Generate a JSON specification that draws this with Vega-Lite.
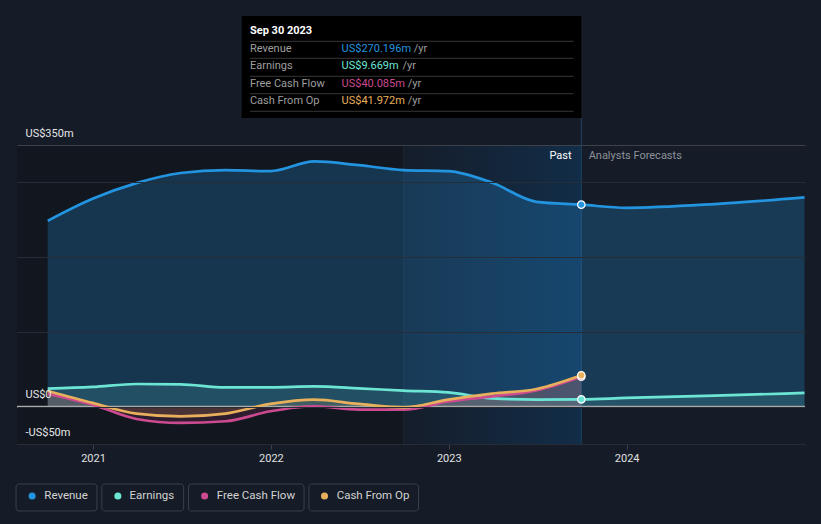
{
  "$schema": "https://vega.github.io/schema/vega-lite/v6.json",
  "width": 788,
  "height": 299,
  "autosize": {"type": "none"},
  "padding": {"left": 17, "top": 145, "right": 16, "bottom": 80},
  "background": "#161c27",
  "config": {"view": {"stroke": null}, "font": "Roboto", "text": {"font": "Roboto", "fontSize": 11}},
  "datasets": {
    "series": [
      {"date": "2020-09-30", "series": "Revenue", "value": 248.5},
      {"date": "2020-12-31", "series": "Revenue", "value": 278},
      {"date": "2021-03-31", "series": "Revenue", "value": 299},
      {"date": "2021-06-30", "series": "Revenue", "value": 312.5},
      {"date": "2021-09-30", "series": "Revenue", "value": 316.5},
      {"date": "2021-12-31", "series": "Revenue", "value": 315},
      {"date": "2022-03-31", "series": "Revenue", "value": 328},
      {"date": "2022-06-30", "series": "Revenue", "value": 323},
      {"date": "2022-09-30", "series": "Revenue", "value": 316.5},
      {"date": "2022-12-31", "series": "Revenue", "value": 315},
      {"date": "2023-03-31", "series": "Revenue", "value": 299.5},
      {"date": "2023-06-30", "series": "Revenue", "value": 274},
      {"date": "2023-09-30", "series": "Revenue", "value": 270.196},
      {"date": "2023-12-31", "series": "Revenue", "value": 266},
      {"date": "2024-06-30", "series": "Revenue", "value": 271},
      {"date": "2024-12-31", "series": "Revenue", "value": 280},
      {"date": "2020-09-30", "series": "Earnings", "value": 24},
      {"date": "2020-12-31", "series": "Earnings", "value": 26.3},
      {"date": "2021-03-31", "series": "Earnings", "value": 30.3},
      {"date": "2021-06-30", "series": "Earnings", "value": 29.8},
      {"date": "2021-09-30", "series": "Earnings", "value": 25.8},
      {"date": "2021-12-31", "series": "Earnings", "value": 25.8},
      {"date": "2022-03-31", "series": "Earnings", "value": 27},
      {"date": "2022-06-30", "series": "Earnings", "value": 24.5},
      {"date": "2022-09-30", "series": "Earnings", "value": 21.4},
      {"date": "2022-12-31", "series": "Earnings", "value": 19},
      {"date": "2023-03-31", "series": "Earnings", "value": 11},
      {"date": "2023-06-30", "series": "Earnings", "value": 9.4},
      {"date": "2023-09-30", "series": "Earnings", "value": 9.669},
      {"date": "2023-12-31", "series": "Earnings", "value": 11.6},
      {"date": "2024-06-30", "series": "Earnings", "value": 14.7},
      {"date": "2024-12-31", "series": "Earnings", "value": 18.3},
      {"date": "2020-09-30", "series": "Free Cash Flow", "value": 17},
      {"date": "2020-12-31", "series": "Free Cash Flow", "value": 2.7},
      {"date": "2021-03-31", "series": "Free Cash Flow", "value": -16.5},
      {"date": "2021-06-30", "series": "Free Cash Flow", "value": -21.8},
      {"date": "2021-09-30", "series": "Free Cash Flow", "value": -19.6},
      {"date": "2021-12-31", "series": "Free Cash Flow", "value": -6.2},
      {"date": "2022-03-31", "series": "Free Cash Flow", "value": 0.5},
      {"date": "2022-06-30", "series": "Free Cash Flow", "value": -4},
      {"date": "2022-09-30", "series": "Free Cash Flow", "value": -4},
      {"date": "2022-12-31", "series": "Free Cash Flow", "value": 7},
      {"date": "2023-03-31", "series": "Free Cash Flow", "value": 13.8},
      {"date": "2023-06-30", "series": "Free Cash Flow", "value": 21.8},
      {"date": "2023-09-30", "series": "Free Cash Flow", "value": 40.085},
      {"date": "2020-09-30", "series": "Cash From Op", "value": 21},
      {"date": "2020-12-31", "series": "Cash From Op", "value": 5},
      {"date": "2021-03-31", "series": "Cash From Op", "value": -9.3},
      {"date": "2021-06-30", "series": "Cash From Op", "value": -13},
      {"date": "2021-09-30", "series": "Cash From Op", "value": -9.3},
      {"date": "2021-12-31", "series": "Cash From Op", "value": 3.6},
      {"date": "2022-03-31", "series": "Cash From Op", "value": 9.4},
      {"date": "2022-06-30", "series": "Cash From Op", "value": 3.6},
      {"date": "2022-09-30", "series": "Cash From Op", "value": -1},
      {"date": "2022-12-31", "series": "Cash From Op", "value": 9.4},
      {"date": "2023-03-31", "series": "Cash From Op", "value": 17.4},
      {"date": "2023-06-30", "series": "Cash From Op", "value": 23.6},
      {"date": "2023-09-30", "series": "Cash From Op", "value": 41.972}
    ],
    "tip": [
      {"role": "title", "date": "2021-11-19", "value": 502.5, "text": "Sep 30 2023"},
      {"role": "label", "date": "2021-11-19", "value": 478.4, "text": "Revenue"},
      {"role": "label", "date": "2021-11-19", "value": 455.7, "text": "Earnings"},
      {"role": "label", "date": "2021-11-19", "value": 431.6, "text": "Free Cash Flow"},
      {"role": "label", "date": "2021-11-19", "value": 408.9, "text": "Cash From Op"},
      {"role": "val", "series": "Revenue", "date": "2022-05-26", "value": 478.4, "text": "US$270.196m"},
      {"role": "val", "series": "Earnings", "date": "2022-05-26", "value": 455.7, "text": "US$9.669m"},
      {"role": "val", "series": "Free Cash Flow", "date": "2022-05-26", "value": 431.6, "text": "US$40.085m"},
      {"role": "val", "series": "Cash From Op", "date": "2022-05-26", "value": 408.9, "text": "US$41.972m"},
      {"role": "unit", "date": "2022-10-21", "value": 478.4, "text": "/yr"},
      {"role": "unit", "date": "2022-09-28", "value": 455.7, "text": "/yr"},
      {"role": "unit", "date": "2022-10-09", "value": 431.6, "text": "/yr"},
      {"role": "unit", "date": "2022-10-09", "value": 408.9, "text": "/yr"}
    ],
    "tipLines": [
      {"date": "2021-11-19", "date2": "2023-09-14", "value": 488.7},
      {"date": "2021-11-19", "date2": "2023-09-14", "value": 466.0},
      {"date": "2021-11-19", "date2": "2023-09-14", "value": 441.9},
      {"date": "2021-11-19", "date2": "2023-09-14", "value": 418.6},
      {"date": "2021-11-19", "date2": "2023-09-14", "value": 395.1}
    ],
    "legendBoxes": [
      {"date": "2020-07-27", "date2": "2021-01-09", "value": -103.5, "value2": -139.6},
      {"date": "2021-01-19", "date2": "2021-07-06", "value": -103.5, "value2": -139.6},
      {"date": "2021-07-16", "date2": "2022-03-10", "value": -103.5, "value2": -139.6},
      {"date": "2022-03-20", "date2": "2022-10-31", "value": -103.5, "value2": -139.6}
    ],
    "legendItems": [
      {"date": "2020-08-29", "tdate": "2020-09-23", "series": "Revenue", "value": -119.6},
      {"date": "2021-02-21", "tdate": "2021-03-17", "series": "Earnings", "value": -119.6},
      {"date": "2021-08-18", "tdate": "2021-09-12", "series": "Free Cash Flow", "value": -119.6},
      {"date": "2022-04-21", "tdate": "2022-05-16", "series": "Cash From Op", "value": -119.6}
    ]
  },
  "encoding": {
    "x": {
      "field": "date", "type": "temporal", "title": null,
      "scale": {"type": "utc", "domain": [{"year": 2020, "month": 7, "date": 29, "utc": true}, {"year": 2025, "month": 1, "date": 1, "utc": true}]},
      "axis": {
        "values": [{"year": 2021, "utc": true}, {"year": 2022, "utc": true}, {"year": 2023, "utc": true}, {"year": 2024, "utc": true}],
        "format": "%Y", "grid": false, "domainColor": "#3c424b", "tickColor": "#3c424b", "tickSize": 5,
        "labelColor": "#e0e0e0", "labelFontSize": 11, "labelPadding": 3, "labelFont": "Roboto"
      }
    },
    "y": {
      "field": "value", "type": "quantitative", "title": null,
      "scale": {"domain": [-50, 350], "nice": false, "zero": false},
      "axis": {
        "values": [-50, 0, 100, 200, 300, 350],
        "labelExpr": "datum.value == 350 ? 'US$350m' : datum.value == 0 ? 'US$0' : datum.value == -50 ? '-US$50m' : ''",
        "grid": true,
        "gridColor": {"condition": {"test": "datum.value == 350", "value": "#3b4049"}, "value": "#272d37"},
        "domain": false, "ticks": false, "tickSize": 0,
        "labelAlign": "left", "labelBaseline": "middle", "labelPadding": -8, "labelOffset": -12,
        "labelColor": "#e6e6e6", "labelFontSize": 11, "labelFont": "Roboto", "labelOverlap": false,
        "zindex": 1
      }
    }
  },
  "layer": [
    {
      "data": {"values": [{"date": "2020-07-29", "date2": "2022-09-30", "value": -50, "value2": 350}]},
      "mark": {"type": "rect", "color": "#12161f"},
      "encoding": {"x2": {"field": "date2"}, "y2": {"field": "value2"}}
    },
    {
      "data": {"values": [{"date": "2022-09-30", "date2": "2023-09-30", "value": -50, "value2": 350}]},
      "mark": {"type": "rect", "color": {"gradient": "linear", "x1": 0, "y1": 0, "x2": 1, "y2": 0, "stops": [{"offset": 0, "color": "#151d2a"}, {"offset": 1, "color": "#122d48"}]}},
      "encoding": {"x2": {"field": "date2"}, "y2": {"field": "value2"}}
    },
    {
      "data": {"values": [{"date": "2022-09-30", "value": -50, "value2": 350}]},
      "mark": {"type": "rule", "color": "#1c2635", "strokeWidth": 1},
      "encoding": {"y2": {"field": "value2"}}
    },
    {
      "data": {"values": [{"date": "2023-09-30", "value": -50, "value2": 386.1}]},
      "mark": {"type": "rule", "color": "#21405e", "strokeWidth": 1},
      "encoding": {"y2": {"field": "value2"}}
    },
    {
      "data": {"name": "series"},
      "mark": {"type": "area", "interpolate": "monotone"},
      "encoding": {
        "y2": {"datum": 0},
        "color": {"field": "series", "type": "nominal", "scale": {"domain": ["Revenue", "Earnings", "Free Cash Flow", "Cash From Op"], "range": ["#2394df", "#6ce5d5", "#cc4a8f", "#e8b05c"]}, "legend": null},
        "fillOpacity": {"condition": {"test": "datum.series === 'Revenue'", "value": 0.25}, "value": 0.15}
      }
    },
    {
      "data": {"values": [{"date": "2020-07-29", "date2": "2025-01-01", "value": 0}]},
      "mark": {"type": "rule", "color": "#a9a9a9", "strokeWidth": 2},
      "encoding": {"x2": {"field": "date2"}}
    },
    {
      "data": {"name": "series"},
      "mark": {"type": "line", "interpolate": "monotone", "strokeWidth": 2.7},
      "encoding": {
        "color": {"field": "series", "type": "nominal", "scale": {"domain": ["Revenue", "Earnings", "Free Cash Flow", "Cash From Op"], "range": ["#2394df", "#6ce5d5", "#cc4a8f", "#e8b05c"]}, "legend": null}
      }
    },
    {
      "data": {"name": "series"},
      "transform": [{"filter": {"field": "date", "equal": {"year": 2023, "month": 9, "date": 30, "utc": true}}}],
      "mark": {"type": "circle", "size": 55, "stroke": "#ffffff", "strokeWidth": 1.2, "opacity": 1},
      "encoding": {
        "color": {"field": "series", "type": "nominal", "scale": {"domain": ["Revenue", "Earnings", "Free Cash Flow", "Cash From Op"], "range": ["#2394df", "#6ce5d5", "#cc4a8f", "#e8b05c"]}, "legend": null}
      }
    },
    {
      "data": {"values": [{"date": "2021-11-02", "date2": "2023-09-30", "value": 386.1, "value2": 522.6}]},
      "mark": {"type": "rect", "color": "#000000"},
      "encoding": {"x2": {"field": "date2"}, "y2": {"field": "value2"}}
    },
    {
      "data": {"name": "tipLines"},
      "mark": {"type": "rule", "color": "#363636", "strokeWidth": 1},
      "encoding": {"x2": {"field": "date2"}}
    },
    {
      "data": {"name": "tip"},
      "transform": [{"filter": "datum.role === 'title'"}],
      "mark": {"type": "text", "align": "left", "baseline": "middle", "color": "#ffffff", "fontWeight": "bold", "fontSize": 11},
      "encoding": {"text": {"field": "text"}}
    },
    {
      "data": {"name": "tip"},
      "transform": [{"filter": "datum.role === 'label' || datum.role === 'unit'"}],
      "mark": {"type": "text", "align": "left", "baseline": "middle", "color": "#9e9e9e", "fontSize": 11},
      "encoding": {"text": {"field": "text"}}
    },
    {
      "data": {"name": "tip"},
      "transform": [{"filter": "datum.role === 'val'"}],
      "mark": {"type": "text", "align": "left", "baseline": "middle", "fontSize": 11},
      "encoding": {
        "text": {"field": "text"},
        "color": {"field": "series", "type": "nominal", "scale": {"domain": ["Revenue", "Earnings", "Free Cash Flow", "Cash From Op"], "range": ["#2394df", "#6ce5d5", "#cc4a8f", "#e8b05c"]}, "legend": null}
      }
    },
    {
      "data": {"values": [{"date": "2023-09-10", "value": 335.3, "text": "Past"}]},
      "mark": {"type": "text", "align": "right", "baseline": "middle", "color": "#ffffff", "fontSize": 11},
      "encoding": {"text": {"field": "text"}}
    },
    {
      "data": {"values": [{"date": "2023-10-15", "value": 335.3, "text": "Analysts Forecasts"}]},
      "mark": {"type": "text", "align": "left", "baseline": "middle", "color": "#8c9199", "fontSize": 11},
      "encoding": {"text": {"field": "text"}}
    },
    {
      "data": {"name": "legendBoxes"},
      "mark": {"type": "rect", "fill": null, "fillOpacity": 0, "stroke": "#3a4049", "strokeWidth": 1, "cornerRadius": 3},
      "encoding": {"x2": {"field": "date2"}, "y2": {"field": "value2"}}
    },
    {
      "data": {"name": "legendItems"},
      "mark": {"type": "circle", "size": 50, "opacity": 1},
      "encoding": {
        "color": {"field": "series", "type": "nominal", "scale": {"domain": ["Revenue", "Earnings", "Free Cash Flow", "Cash From Op"], "range": ["#2394df", "#6ce5d5", "#cc4a8f", "#e8b05c"]}, "legend": null}
      }
    },
    {
      "data": {"name": "legendItems"},
      "mark": {"type": "text", "align": "left", "baseline": "middle", "color": "#d2d2d2", "fontSize": 11.5},
      "encoding": {"x": {"field": "tdate", "type": "temporal"}, "text": {"field": "series"}}
    }
  ]
}
